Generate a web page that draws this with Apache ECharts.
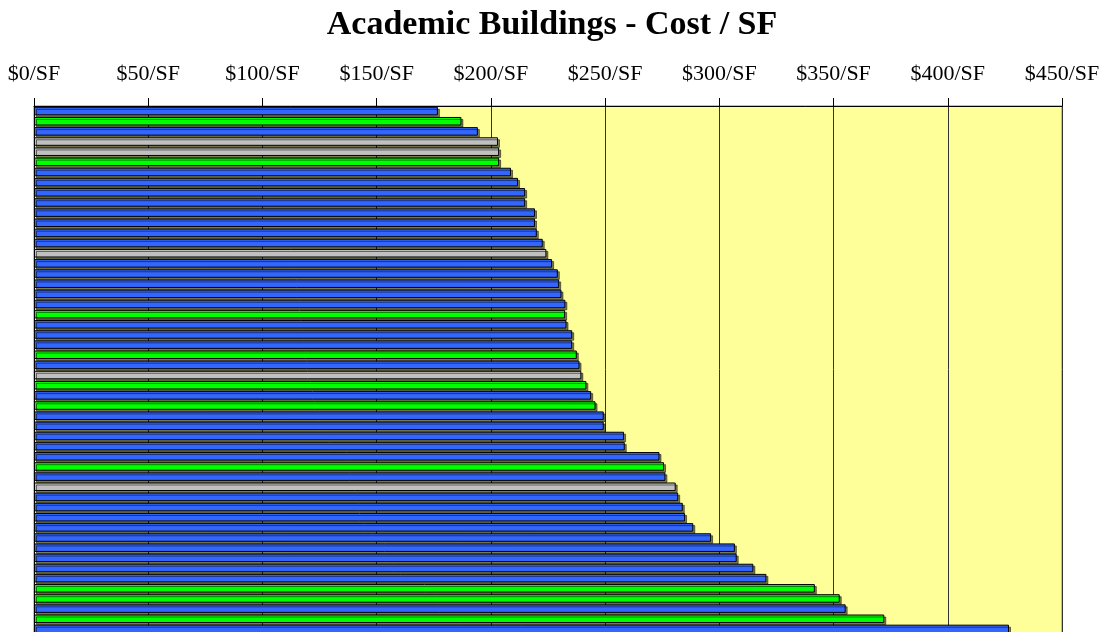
<!DOCTYPE html>
<html>
<head>
<meta charset="utf-8">
<script src="https://cdn.jsdelivr.net/npm/echarts@6/dist/echarts.min.js"></script>
<style>
html,body{margin:0;padding:0;background:#fff;}
#chart{width:1104px;height:632px;}
</style>
</head>
<body>
<div id="chart"></div>
<script>
// cost per square foot, one bar per building, top to bottom
const costPerSF = [176.8,187.1,194.3,203.1,203.6,203.6,208.8,211.9,215.0,215.0,
	219.3,219.3,220.1,222.7,224.3,226.8,229.3,229.9,230.9,232.6,
	232.5,233.1,235.6,235.6,237.6,238.8,239.6,241.8,243.9,245.8,
	249.4,249.4,258.3,258.6,273.8,275.8,276.4,280.9,282.0,284.0,
	285.0,288.6,296.4,306.8,307.6,314.9,320.6,341.8,352.7,355.3,
	372.2,426.8];
// building group: B = blue, G = green, S = grey
const groups = ['B','G','B','S','S','G','B','B','B','B',
	'B','B','B','B','S','B','B','B','B','B',
	'G','B','B','B','G','B','S','G','B','G',
	'B','B','B','B','B','G','B','S','B','B',
	'B','B','B','B','B','B','B','G','G','B',
	'G','B'];
const buildings = costPerSF.map(function(v,i){ return 'Building ' + (i+1); });
const tickValues = [0,50,100,150,200,250,300,350,400,450];

const groupColors = {B:'#3366FF', G:'#00FF00', S:'#C0C0C0'};

let barData = [];
costPerSF.forEach(function(v,i){
	barData.push({
		value: v,
		itemStyle: {color: groupColors[groups[i]]}
	});
});

let myChart = echarts.init(document.getElementById('chart'));
let option = {
	animation: false,
	title: {
		text: 'Academic Buildings - Cost / SF',
		left: 'center',
		top: 3,
		textStyle: {
			fontFamily: 'Liberation Serif',
			fontWeight: 'bold',
			fontSize: 34,
			color: '#000'
		}
	},
	grid: {
		left: 34,
		top: 106,
		width: 1028,
		height: 528,
		outerBoundsMode: 'none',
		containLabel: false,
		show: true,
		backgroundColor: '#FFFF99',
		borderColor: '#808080',
		borderWidth: 1
	},
	xAxis: {
		type: 'value',
		position: 'top',
		min: tickValues[0],
		max: tickValues[tickValues.length-1],
		interval: 50,
		axisLine: {show: true, lineStyle: {color: '#000', width: 1}},
		axisTick: {show: true, length: 8, lineStyle: {color: '#000'}},
		axisLabel: {
			margin: 21,
			fontFamily: 'Liberation Serif',
			fontSize: 22,
			color: '#000',
			formatter: function(v){ return '$' + v + '/SF'; }
		},
		splitLine: {show: true, lineStyle: {color: '#333', width: 1}}
	},
	yAxis: {
		type: 'category',
		inverse: true,
		data: buildings,
		axisLine: {show: true, lineStyle: {color: '#000', width: 1}},
		axisTick: {show: false},
		axisLabel: {show: false}
	},
	series: [{
		type: 'bar',
		data: barData,
		barCategoryGap: '16%',
		itemStyle: {
			borderColor: '#000',
			borderWidth: 1,
			shadowColor: 'rgba(0,0,0,0.5)',
			shadowBlur: 0,
			shadowOffsetX: 2,
			shadowOffsetY: 2
		}
	}]
};
myChart.setOption(option);
</script>
</body>
</html>
